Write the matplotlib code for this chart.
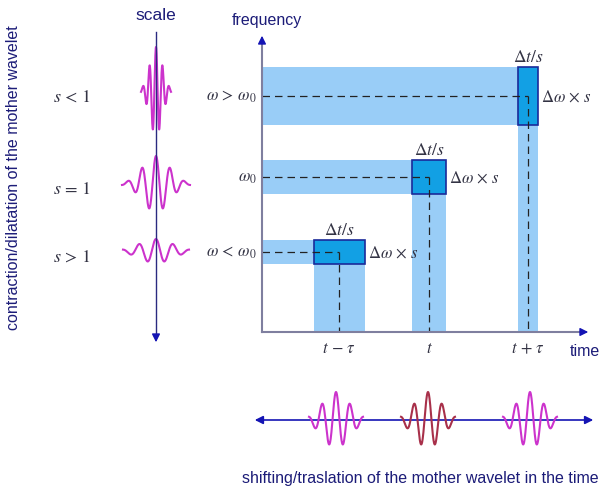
import matplotlib
matplotlib.use("Agg")
import matplotlib.pyplot as plt
import matplotlib.patches as mpatches
import numpy as np

plt.rcParams['mathtext.fontset'] = 'stix'
plt.rcParams['font.family'] = ['Liberation Sans', 'DejaVu Sans']

# time-frequency tiles (pixel frame of the drawing)
tile_time = [339, 429, 528]          # centres on the time axis
tile_freq = [253, 178, 97]           # centres on the frequency axis
tile_width = [51, 34, 20]            # Δt/s
tile_height = [24, 34, 58]           # Δω x s
time_labels = [r'$t\,-\,\tau$', r'$t$', r'$t\,+\,\tau$']
freq_labels = [r'$\omega\,<\,\omega_0$', r'$\omega_0$', r'$\omega\,>\,\omega_0$']

# scaled wavelets (left column)
scale_labels = [r'$s\,<\,1$', r'$s\,=\,1$', r'$s\,>\,1$']
scale_ypos = [92, 185, 252]
scale_period = [6.5, 14, 17]
scale_span = [15, 34, 33]
scale_amp = [44, 28, 12]

# shifted wavelets (bottom row)
shift_xpos = [336, 428, 530]
shift_colors = ['#cc33cc', '#a8304a', '#cc33cc']

navy = '#1c1c78'
axis_grey = '#7f7f9f'
arrow_blue = '#1414b4'
light_blue = '#99cdf7'
dark_blue = '#12a0e4'
purple = '#cc33cc'


def wavelet(u, sigma=0.95):
    return np.cos(2 * np.pi * u) * np.exp(-u ** 2 / (2 * sigma ** 2))


fig = plt.figure(figsize=(6, 4.89), dpi=100)
ax = fig.add_axes([0, 0, 1, 1])
ax.set_xlim(0, 600)
ax.set_ylim(489, 0)
ax.axis('off')

x0, y0 = 262, 333  # origin of time-frequency plane

# bands and tiles
for tc, fc, w, h in zip(tile_time, tile_freq, tile_width, tile_height):
    ax.add_patch(mpatches.Rectangle((x0, fc - h / 2), tc + w / 2 - x0, h,
                                    facecolor=light_blue, edgecolor='none', zorder=1))
    ax.add_patch(mpatches.Rectangle((tc - w / 2, fc), w, y0 - fc,
                                    facecolor=light_blue, edgecolor='none', zorder=1))
    ax.add_patch(mpatches.Rectangle((tc - w / 2, fc - h / 2), w, h,
                                    facecolor=dark_blue, edgecolor='#1a2a9a', lw=1.2, zorder=2))
    ax.plot([x0, tc], [fc, fc], color='#222222', lw=0.9, ls=(0, (6, 4)), zorder=3)
    ax.plot([tc, tc], [fc, y0], color='#222222', lw=0.9, ls=(0, (6, 4)), zorder=3)
    ax.text(tc, fc - h / 2 - 3, r'$\Delta t/s$', ha='center', va='bottom',
            fontsize=12.5, color='#333344')
    ax.text(tc + w / 2 + 3, fc, r'$\Delta\omega\,\times\,s$', ha='left', va='center',
            fontsize=12, color='#333344')

for tc, lab in zip(tile_time, time_labels):
    ax.text(tc, y0 + 8, lab, ha='center', va='top', fontsize=12, color='#333344')
for fc, lab in zip(tile_freq, freq_labels):
    ax.text(x0 - 5, fc, lab, ha='right', va='center', fontsize=12, color='#333344')

# time-frequency axes
ax.plot([x0, x0], [y0, 42], color=axis_grey, lw=1.5, zorder=4)
ax.plot([x0, 582], [y0, y0], color=axis_grey, lw=1.5, zorder=4)
ax.annotate('', xy=(x0, 34), xytext=(x0, 44), zorder=5,
            arrowprops=dict(arrowstyle='-|>', color=arrow_blue, lw=1, mutation_scale=12))
ax.annotate('', xy=(591, y0), xytext=(580, y0), zorder=5,
            arrowprops=dict(arrowstyle='-|>', color=arrow_blue, lw=1, mutation_scale=12))
ax.text(232, 20, 'frequency', ha='left', va='center', fontsize=11.5, color=navy)
ax.text(570, 352, 'time', ha='left', va='center', fontsize=11.5, color=navy)

# scale axis with dilated wavelets
sx = 156
for yc, per, span, amp, lab in zip(scale_ypos, scale_period, scale_span,
                                   scale_amp, scale_labels):
    xs = np.linspace(-span, span, 300)
    ax.plot(sx + xs, yc - amp * wavelet(xs / per), color=purple, lw=1.5, zorder=2)
    ax.text(72, yc + 5, lab, ha='center', va='center', fontsize=13, color='#333344')
ax.plot([sx, sx], [33, 338], color='#2a2a80', lw=1, zorder=3)
ax.annotate('', xy=(sx, 346), xytext=(sx, 336), zorder=5,
            arrowprops=dict(arrowstyle='-|>', color=arrow_blue, lw=1, mutation_scale=12))
ax.text(sx, 15, 'scale', ha='center', va='center', fontsize=12.5, color=navy)
ax.text(14, 178, 'contraction/dilatation of the mother wavelet', rotation=90,
        ha='center', va='center', fontsize=11.5, color=navy)

# translation axis with shifted wavelets
ty = 421
ax.annotate('', xy=(252, ty), xytext=(596, ty), zorder=3,
            arrowprops=dict(arrowstyle='<|-|>', color=arrow_blue, lw=1.2, mutation_scale=12))
for xc, col in zip(shift_xpos, shift_colors):
    xs = np.linspace(-27, 27, 300)
    ax.plot(xc + xs, ty - 28 * wavelet(xs / 14), color=col, lw=1.5, zorder=4)
ax.text(420, 479, 'shifting/traslation of the mother wavelet in the time',
        ha='center', va='center', fontsize=11.5, color=navy)

fig.savefig('out.png', dpi=100)
